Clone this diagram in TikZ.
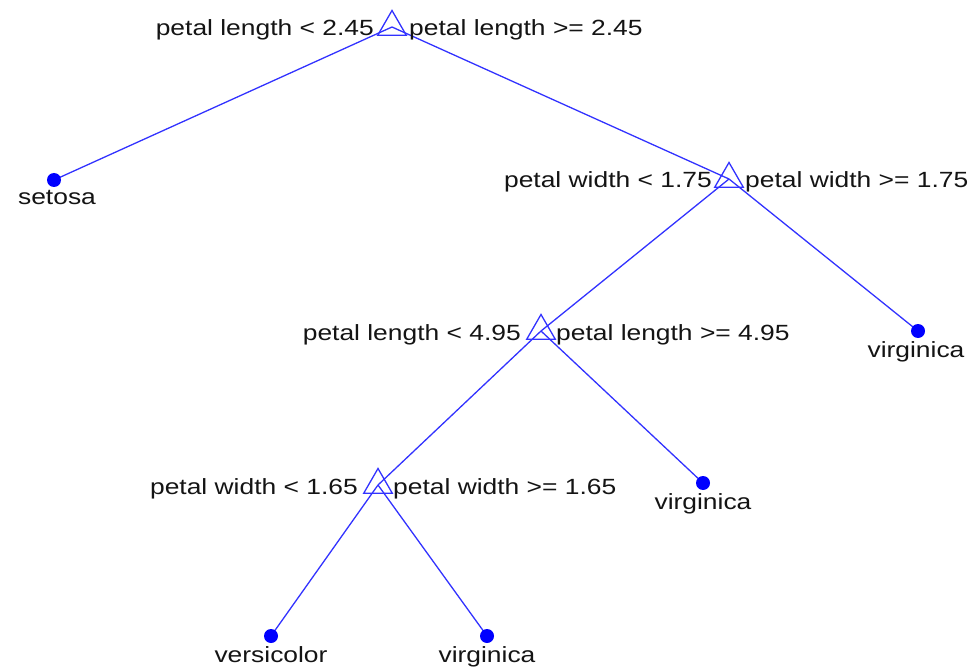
\documentclass[tikz,border=0pt]{standalone}
\usepackage{fontspec}
\setmainfont{Liberation Sans}[FakeStretch=1.2]
\usetikzlibrary{shapes.geometric}
\definecolor{edgeblue}{RGB}{50,50,255}
\definecolor{txt}{RGB}{20,20,20}
\begin{document}
\begin{tikzpicture}[x=1pt,y=-1pt,
  split/.style={regular polygon, regular polygon sides=3, draw=edgeblue, line width=1.3pt, minimum size=33pt, inner sep=0pt},
  leaf/.style={circle, fill=blue, minimum size=14pt, inner sep=0pt},
  edge/.style={draw=edgeblue, line width=1.3pt},
  lab/.style={font=\fontsize{22}{24}\selectfont, text=txt, inner sep=0pt},
]
\useasboundingbox (0,0) rectangle (969,668);
% points
\coordinate (p1) at (392,27);
\coordinate (p2) at (729,179);
\coordinate (p3) at (541,331);
\coordinate (p4) at (378,485);
\coordinate (l1) at (54,180);
\coordinate (l2) at (918,331);
\coordinate (l3) at (703,483);
\coordinate (l4) at (271,636);
\coordinate (l5) at (487,636);
% edges
\draw[edge] (p1) -- (l1);
\draw[edge] (p1) -- (p2);
\draw[edge] (p2) -- (p3);
\draw[edge] (p2) -- (l2);
\draw[edge] (p3) -- (p4);
\draw[edge] (p3) -- (l3);
\draw[edge] (p4) -- (l4);
\draw[edge] (p4) -- (l5);
% split nodes
\node[split] (s1) at (p1) {};
\node[split] (s2) at (p2) {};
\node[split] (s3) at (p3) {};
\node[split] (s4) at (p4) {};
% leaves
\node[leaf] (f1) at (l1) {};
\node[leaf] (f2) at (l2) {};
\node[leaf] (f3) at (l3) {};
\node[leaf] (f4) at (l4) {};
\node[leaf] (f5) at (l5) {};
% split labels
\node[lab, anchor=base east] (a1) at (374,36) {petal length < 2.45};
\node[lab, anchor=base west] (b1) at (409,36) {petal length >= 2.45};
\node[lab, anchor=base east] (a2) at (712,188) {petal width < 1.75};
\node[lab, anchor=base west] (b2) at (745,188) {petal width >= 1.75};
\node[lab, anchor=base east] (a3) at (521,340) {petal length < 4.95};
\node[lab, anchor=base west] (b3) at (556,340) {petal length >= 4.95};
\node[lab, anchor=base east] (a4) at (358,494) {petal width < 1.65};
\node[lab, anchor=base west] (b4) at (393,494) {petal width >= 1.65};
% leaf labels
\node[lab, anchor=base] (c1) at (57,205) {setosa};
\node[lab, anchor=base] (c2) at (916,357) {virginica};
\node[lab, anchor=base] (c3) at (703,509) {virginica};
\node[lab, anchor=base] (c4) at (271,662) {versicolor};
\node[lab, anchor=base] (c5) at (487,662) {virginica};
\end{tikzpicture}
\end{document}
